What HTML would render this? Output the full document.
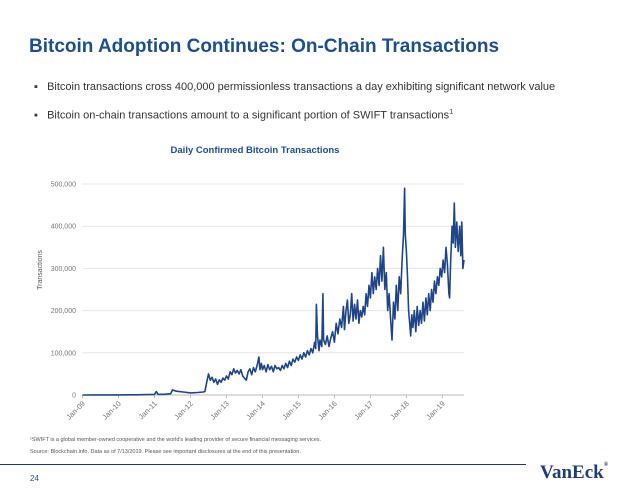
<!DOCTYPE html>
<html><head><meta charset="utf-8"><style>
body{margin:0;width:638px;height:493px;background:#fff;font-family:"Liberation Sans",sans-serif;position:relative;overflow:hidden}
.t{position:absolute;white-space:nowrap}
</style></head><body>
<div class="t" style="left:29px;top:36px;font-size:19px;font-weight:bold;color:#1f4e8c">Bitcoin Adoption Continues: On-Chain Transactions</div>
<div class="t" style="left:34px;top:81px;font-size:11px;color:#333">▪&nbsp;&nbsp;&nbsp;Bitcoin transactions cross 400,000 permissionless transactions a day exhibiting significant network value</div>
<div class="t" style="left:34px;top:109px;font-size:11px;color:#333">▪&nbsp;&nbsp;&nbsp;Bitcoin on-chain transactions amount to a significant portion of SWIFT transactions<sup style="font-size:7px">1</sup></div>
<div class="t" style="left:30px;top:437px;font-size:5.5px;color:#555">¹SWIFT is a global member-owned cooperative and the world's leading provider of secure financial messaging services.</div>
<div class="t" style="left:30px;top:449px;font-size:5.5px;color:#555">Source: Blockchain.info. Data as of 7/13/2019. Please see important disclosures at the end of this presentation.</div>
<div style="position:absolute;left:0;top:464px;width:526px;height:1px;background:#1f3a5f"></div>
<div class="t" style="left:30px;top:474px;font-size:8px;color:#1f4e8c">24</div>
<div class="t" style="left:540px;top:462px;font-size:19px;font-weight:bold;font-family:'Liberation Serif',serif;color:#1f3f73">VanEck<span style="font-size:6px;vertical-align:top">®</span></div>
<svg id="chart" width="638" height="493" style="position:absolute;left:0;top:0"></svg>
<script>
const yTicks=[0,100000,200000,300000,400000,500000];
const xTickLabels=["Jan-09","Jan-10","Jan-11","Jan-12","Jan-13","Jan-14","Jan-15","Jan-16","Jan-17","Jan-18","Jan-19"];
const xTickYears=[2009,2010,2011,2012,2013,2014,2015,2016,2017,2018,2019];
const dates=[2009.0,2009.5,2010.0,2010.5,2010.8,2011.0,2011.05,2011.1,2011.3,2011.45,2011.5,2011.6,2011.8,2012.0,2012.2,2012.35,2012.4,2012.45,2012.5,2012.55,2012.6,2012.65,2012.7,2012.75,2012.8,2012.85,2012.9,2012.95,2013.0,2013.05,2013.1,2013.15,2013.2,2013.25,2013.3,2013.35,2013.4,2013.45,2013.5,2013.55,2013.6,2013.65,2013.7,2013.75,2013.8,2013.85,2013.9,2013.93,2013.97,2014.0,2014.05,2014.1,2014.15,2014.2,2014.25,2014.3,2014.35,2014.4,2014.45,2014.5,2014.55,2014.6,2014.65,2014.7,2014.75,2014.8,2014.85,2014.9,2014.95,2015.0,2015.05,2015.1,2015.15,2015.2,2015.25,2015.3,2015.35,2015.4,2015.45,2015.48,2015.5,2015.53,2015.57,2015.6,2015.65,2015.68,2015.7,2015.75,2015.8,2015.85,2015.9,2015.95,2016.0,2016.05,2016.1,2016.15,2016.2,2016.25,2016.28,2016.32,2016.36,2016.4,2016.44,2016.48,2016.52,2016.56,2016.6,2016.64,2016.68,2016.72,2016.76,2016.8,2016.84,2016.88,2016.92,2016.96,2017.0,2017.04,2017.08,2017.12,2017.16,2017.2,2017.24,2017.28,2017.32,2017.36,2017.4,2017.44,2017.48,2017.52,2017.56,2017.6,2017.64,2017.68,2017.72,2017.76,2017.8,2017.84,2017.88,2017.92,2017.95,2017.97,2018.0,2018.03,2018.06,2018.09,2018.12,2018.15,2018.18,2018.22,2018.26,2018.3,2018.34,2018.38,2018.42,2018.46,2018.5,2018.54,2018.58,2018.62,2018.66,2018.7,2018.74,2018.78,2018.82,2018.86,2018.9,2018.94,2018.98,2019.02,2019.06,2019.1,2019.14,2019.18,2019.2,2019.23,2019.27,2019.3,2019.33,2019.36,2019.4,2019.44,2019.48,2019.51,2019.54,2019.57,2019.6];
const txK=[0.1,0.2,0.3,0.4,1,1.5,8,1.5,2,3,12,9,7,5,6,7,8,30,50,35,42,30,38,25,36,30,40,35,45,38,55,48,62,52,58,50,60,45,40,35,55,62,48,65,55,70,90,60,75,60,70,55,72,60,68,55,70,62,65,58,70,62,75,65,80,70,85,78,90,82,95,85,100,90,105,95,110,100,125,110,215,140,105,130,115,240,130,120,140,115,135,150,125,170,145,180,160,210,155,200,225,170,190,240,175,215,180,225,170,200,185,210,190,240,210,260,230,290,240,280,250,300,260,330,270,350,250,290,200,240,180,130,220,180,260,200,280,240,320,380,490,380,340,280,200,170,140,190,160,200,150,210,165,200,170,220,175,230,190,240,200,250,220,270,240,280,260,300,280,320,290,350,310,240,230,320,400,360,455,350,410,340,400,330,410,300,320];
const svg=document.getElementById('chart');
const NS='http://www.w3.org/2000/svg';
const x0=82.5,x1=464,yZero=395,yTop=184;
const X=d=>x0+(d-2009)/(2019.6-2009)*(x1-x0);
const Y=v=>yZero-v/500000*(yZero-yTop);
function mk(t,a){const e=document.createElementNS(NS,t);for(const k in a)e.setAttribute(k,a[k]);svg.appendChild(e);return e;}
const ct=mk('text',{x:255,y:153,'text-anchor':'middle','font-size':'9.5','font-weight':'bold',fill:'#1f4e8c'});
ct.textContent='Daily Confirmed Bitcoin Transactions';


yTicks.forEach(v=>{
  const g=mk('line',{x1:x0,x2:x1,y1:Y(v),y2:Y(v),stroke:v===0?'#bbb':'#e4e4e4','stroke-width':1});
  
  
  const t=mk('text',{x:76,y:Y(v)+2.5,'text-anchor':'end','font-size':'7',fill:'#777'});
  t.textContent=v.toLocaleString('en-US');
  
  
});
xTickYears.forEach((yr,i)=>{
  const x=X(yr);
  const tk=mk('line',{x1:x,x2:x,y1:yZero,y2:yZero+3,stroke:'#bbb'});
  
  
  const t=mk('text',{x:x+3,y:yZero+9,'text-anchor':'end','font-size':'7.5',fill:'#777',transform:`rotate(-45 ${x+3} ${yZero+9})`});
  t.textContent=xTickLabels[i];
  
  
});
const yt=mk('text',{x:42,y:270,'text-anchor':'middle','font-size':'7',fill:'#555',transform:'rotate(-90 42 270)'});
yt.textContent='Transactions';


const pts=dates.map((d,i)=>X(d).toFixed(1)+','+Y(txK[i]*1000).toFixed(1)).join(' ');
const pl=mk('polyline',{points:pts,fill:'none',stroke:'#1f4587','stroke-width':1.6,'stroke-linejoin':'round'});


</script>
</body></html>
